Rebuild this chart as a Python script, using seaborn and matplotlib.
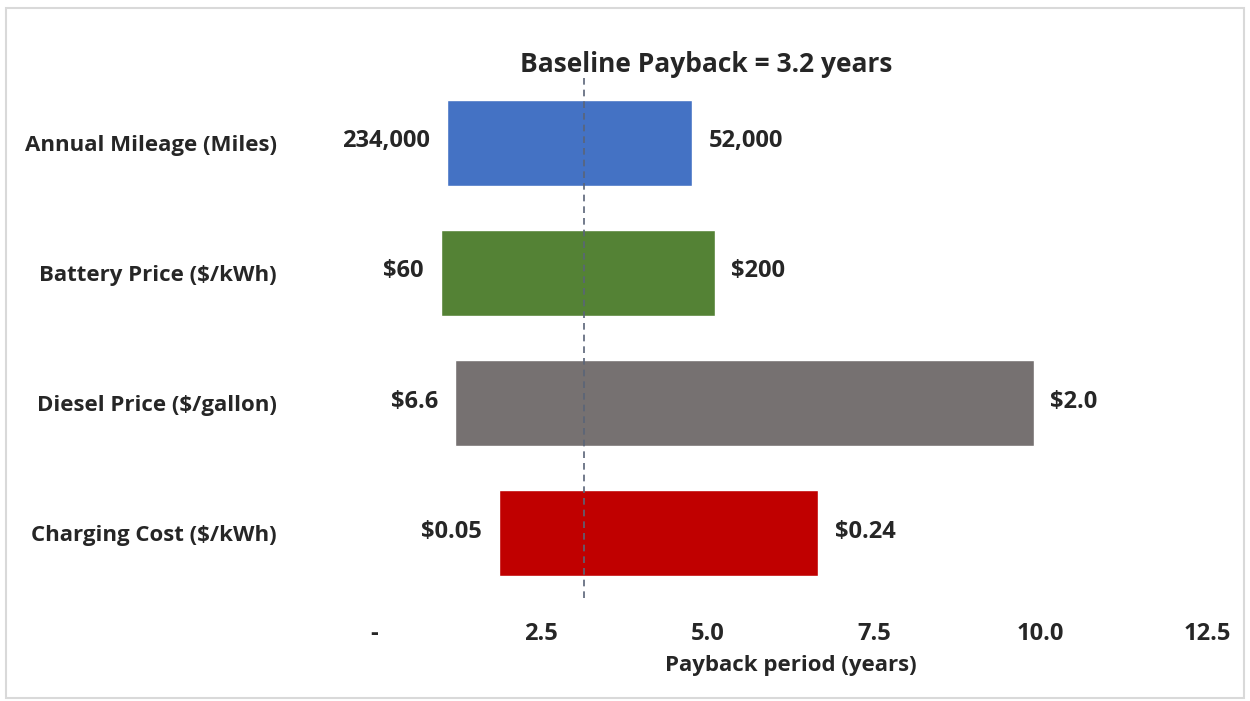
import pandas as pd
import seaborn as sns
import matplotlib.pyplot as plt
from matplotlib.patches import Rectangle

# Tornado chart data (payback years at low / high end of each input range)
factors = ['Annual Mileage (Miles)', 'Battery Price ($/kWh)',
           'Diesel Price ($/gallon)', 'Charging Cost ($/kWh)']
payback_low = [1.09, 1.00, 1.21, 1.87]
payback_high = [4.77, 5.11, 9.90, 6.67]
label_low = ['234,000', '$60', '$6.6', '$0.05']
label_high = ['52,000', '$200', '$2.0', '$0.24']
bar_colors = ['#4472C4', '#548235', '#767171', '#C00000']
baseline = 3.15
x_ticks = [0, 2.5, 5.0, 7.5, 10.0, 12.5]
x_tick_labels = ['-', '2.5', '5.0', '7.5', '10.0', '12.5']

df = pd.DataFrame({'factor': factors, 'low': payback_low, 'high': payback_high})
df['span'] = df['high'] - df['low']

sns.set_style('white')
plt.rcParams['font.family'] = ['Open Sans', 'DejaVu Sans']
plt.rcParams['font.weight'] = 'bold'
plt.rcParams['text.parse_math'] = False

fs = 16      # category labels / axis label
fs_num = 17  # numbers

fig = plt.figure(figsize=(12.5, 7.01), dpi=100)
ax = fig.add_axes([0.2992, 0.147, 0.6664, 0.742])

for i, row in df.iterrows():
    sns.barplot(data=df.iloc[[i]], x='span', y='factor', order=factors,
                color=bar_colors[i], left=[row['low']], width=0.66,
                saturation=1, ax=ax)

ax.axvline(baseline, color='#5A6478', ls=(0, (4, 3)), lw=1.2, zorder=3)

for i, row in df.iterrows():
    ax.annotate(label_low[i], (row['low'], i), xytext=(-12, 1), textcoords='offset points',
                ha='right', va='center', fontsize=fs_num, fontweight='bold')
    ax.annotate(label_high[i], (row['high'], i), xytext=(12, 1), textcoords='offset points',
                ha='left', va='center', fontsize=fs_num, fontweight='bold')

ax.set_xlim(0, 12.5)
ax.set_xticks(x_ticks)
ax.set_xticklabels(x_tick_labels, fontsize=fs_num, fontweight='bold')
ax.tick_params(axis='x', length=0, pad=17)
ax.tick_params(axis='y', length=0, pad=70, labelsize=fs)
for t in ax.get_yticklabels():
    t.set_fontweight('bold')
ax.set_xlabel('Payback period (years)', fontsize=fs, fontweight='bold', labelpad=7)
ax.set_ylabel('')
sns.despine(ax=ax, left=True, bottom=True)

fig.text(706 / 1250, 1 - 65 / 701, 'Baseline Payback = 3.2 years', ha='center', va='center',
         fontsize=19, fontweight='bold')

# light frame around the whole chart
fig.patches.append(Rectangle((0.005, 0.004), 0.99, 0.985, transform=fig.transFigure,
                             fill=False, edgecolor='#D9D9D9', lw=1.5))

fig.savefig('out.png', dpi=100)
